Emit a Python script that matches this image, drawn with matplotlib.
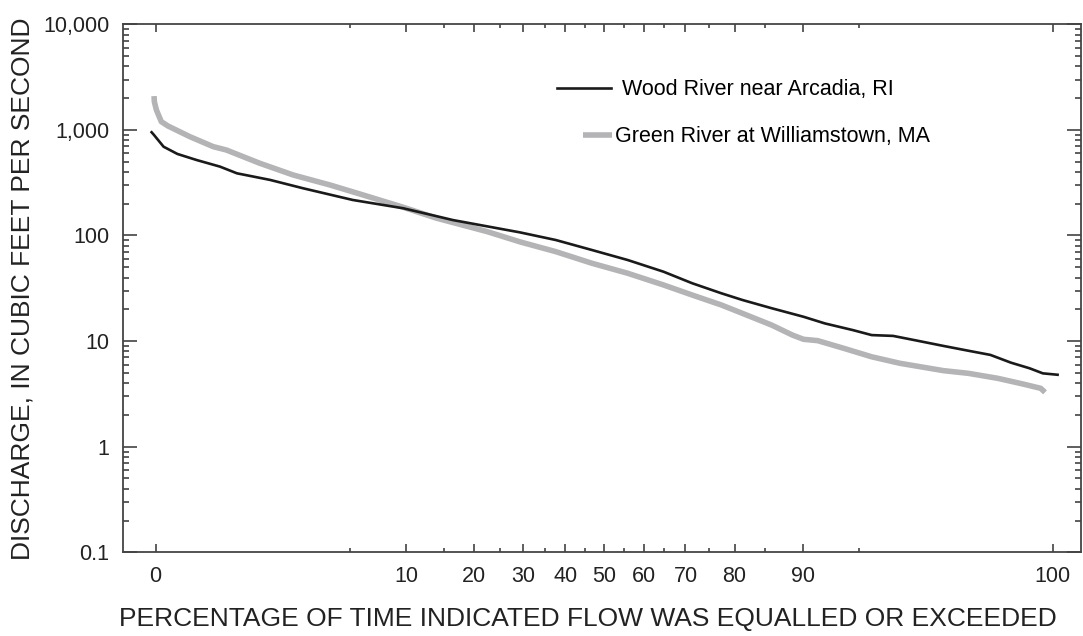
import math
import numpy as np
import matplotlib
matplotlib.use("Agg")
from matplotlib import pyplot as plt
from matplotlib.ticker import FixedLocator, FixedFormatter, LogLocator, NullFormatter

# --- Data ---
# percent of time flow equalled or exceeded, discharge in ft3/s
wood_pct = [0.172, 0.18, 0.22, 0.29, 0.42, 0.65, 0.88, 1.54, 2.58, 5.2, 9.7, 16.4,
            29.3, 37.7, 46.8, 56.0, 64.9, 71.5, 77.5, 81.4, 86.0, 90.1, 92.3, 94.6,
            95.8, 96.9, 97.76, 98.58, 99.07, 99.37, 99.57, 99.70, 99.77, 99.83]
wood_q = [950, 900, 693, 592, 519, 449, 388, 336, 280, 217, 181, 140,
          107, 90.6, 72.9, 58.6, 45.4, 35.3, 28.4, 24.5, 20.5, 17.0, 14.7, 12.7,
          11.4, 11.2, 10.2, 9.0, 8.1, 7.4, 6.25, 5.53, 4.95, 4.8]

green_pct = [0.181, 0.182, 0.19, 0.21, 0.24, 0.37, 0.575, 0.73, 1.30, 2.22, 3.81,
             5.72, 9.7, 13.9, 22.4, 29.3, 37.7, 46.8, 56.0, 64.9, 71.5, 77.5,
             81.4, 86.0, 88.8, 90.1, 91.6, 93.9, 95.8, 97.2, 98.58, 99.07, 99.45,
             99.66, 99.76, 99.78]
green_q = [2090, 1850, 1544, 1197, 1090, 863, 694, 645, 483, 374, 301,
           247, 185, 146, 109, 87, 70.3, 54.6, 43.9, 34.0, 27.3, 22.0,
           18.3, 14.2, 11.4, 10.4, 10.1, 8.55, 7.1, 6.16, 5.25, 4.95, 4.44,
           3.92, 3.57, 3.27]

x_major = [0.187, 10, 20, 30, 40, 50, 60, 70, 80, 90, 99.812]
x_labels = ["0", "10", "20", "30", "40", "50", "60", "70", "80", "90", "100"]
x_minor = [5, 15, 25, 35, 45, 55, 65, 75, 85, 95]
y_major = [0.1, 1, 10, 100, 1000, 10000]
y_labels = ["0.1", "1", "10", "100", "1,000", "10,000"]


# --- normal probability scale (no scipy here) ---
A = [-3.969683028665376e+01, 2.209460984245205e+02, -2.759285104469687e+02,
     1.383577518672690e+02, -3.066479806614716e+01, 2.506628277459239e+00]
B = [-5.447609879822406e+01, 1.615858368580409e+02, -1.556989798598866e+02,
     6.680131188771972e+01, -1.328068155288572e+01]
C = [-7.784894002430293e-03, -3.223964580411365e-01, -2.400758277161838e+00,
     -2.549732539343734e+00, 4.374664141464968e+00, 2.938163982698783e+00]
D = [7.784695709041462e-03, 3.224671290700398e-01, 2.445134137142996e+00,
     3.754408661907416e+00]


def ppf(p):
    p = np.clip(np.asarray(p, dtype=float), 1e-12, 1 - 1e-12)
    plow = 0.02425
    q = p - 0.5
    r = q * q
    central = (((((A[0]*r + A[1])*r + A[2])*r + A[3])*r + A[4])*r + A[5]) * q / \
              (((((B[0]*r + B[1])*r + B[2])*r + B[3])*r + B[4])*r + 1)
    ql = np.sqrt(-2 * np.log(np.minimum(p, 1 - p)))
    tail = (((((C[0]*ql + C[1])*ql + C[2])*ql + C[3])*ql + C[4])*ql + C[5]) / \
           ((((D[0]*ql + D[1])*ql + D[2])*ql + D[3])*ql + 1)
    out = np.where(p < plow, tail, np.where(p > 1 - plow, -tail, central))
    return out


_erf = np.vectorize(math.erf)


def forward(x):
    return ppf(np.asarray(x, dtype=float) / 100.0)


def inverse(z):
    z = np.asarray(z, dtype=float)
    return 100.0 * 0.5 * (1 + _erf(z / math.sqrt(2)))


plt.rcParams['font.family'] = ['Liberation Sans', 'DejaVu Sans']

fig = plt.figure(figsize=(10.83, 6.36), dpi=100)
ax = fig.add_axes([0.1139, 0.1316, 0.8842, 0.8302])

ax.set_xscale('function', functions=(forward, inverse))
ax.set_yscale('log')

gray_line, = ax.plot(green_pct, green_q, color='#b4b4b6', lw=4.0,
                     solid_capstyle='butt', zorder=2)
black_line, = ax.plot(wood_pct, wood_q, color='#1a1a1a', lw=1.9, zorder=3)

ax.set_xlim(0.0942, 99.8965)
ax.set_ylim(0.1, 10000)

ax.xaxis.set_major_locator(FixedLocator(x_major))
ax.xaxis.set_major_formatter(FixedFormatter(x_labels))
ax.xaxis.set_minor_locator(FixedLocator(x_minor))
ax.xaxis.set_minor_formatter(NullFormatter())
ax.yaxis.set_major_locator(FixedLocator(y_major))
ax.yaxis.set_major_formatter(FixedFormatter(y_labels))
ax.yaxis.set_minor_locator(LogLocator(base=10, subs=np.arange(2, 10)))
ax.yaxis.set_minor_formatter(NullFormatter())

ax.tick_params(which='both', direction='in', top=True, right=True,
               color='#333333', labelsize=15.5, labelcolor='#222222')
ax.tick_params(axis='x', which='major', length=6, width=1.1, pad=10)
ax.tick_params(axis='x', which='minor', length=3, width=1.1)
ax.tick_params(axis='y', which='major', length=10, width=1.1, pad=10)
ax.tick_params(axis='y', which='minor', length=4.5, width=1.1)

for s in ax.spines.values():
    s.set_color('#444444')
    s.set_linewidth(1.3)

fig.text(588 / 1083, 1 - 619 / 636,
         'PERCENTAGE OF TIME INDICATED FLOW WAS EQUALLED OR EXCEEDED',
         ha='center', va='center', fontsize=19, color='#222222')
fig.text(23 / 1083, 1 - 289 / 636, 'DISCHARGE, IN CUBIC FEET PER SECOND',
         ha='center', va='center', rotation=90, fontsize=19, color='#222222')

leg1 = ax.legend([black_line], ['Wood River near Arcadia, RI'], loc='center left',
                 bbox_to_anchor=(0.453, 0.876), frameon=False, fontsize=15.5,
                 handlelength=2.5, handletextpad=0.5, borderpad=0, borderaxespad=0)
ax.add_artist(leg1)
ax.legend([gray_line], ['Green River at Williamstown, MA'], loc='center left',
          bbox_to_anchor=(0.48, 0.787), frameon=False, fontsize=15.5,
          handlelength=1.35, handletextpad=0.15, borderpad=0, borderaxespad=0)

fig.savefig('out.png', dpi=100)
